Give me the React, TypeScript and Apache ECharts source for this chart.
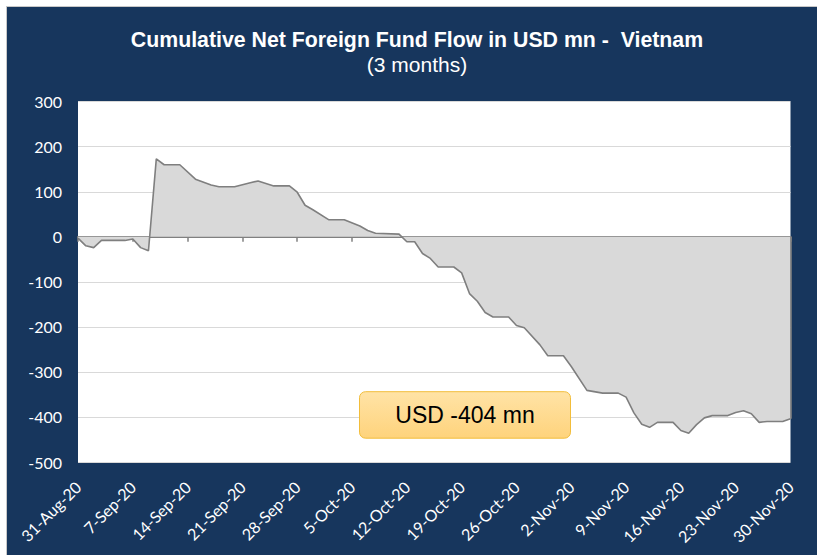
import React, { useEffect, useRef } from "react";
import * as echarts from "echarts";

const titleText = "Cumulative Net Foreign Fund Flow in USD mn -  Vietnam";
const subtitleText = "(3 months)";
const calloutText = "USD -404 mn";

const startDate = "2020-08-31";
const endDate = "2020-11-30";

const dates = [
  "2020-08-31", "2020-09-01", "2020-09-02", "2020-09-03", "2020-09-06", "2020-09-07",
  "2020-09-08", "2020-09-09", "2020-09-10", "2020-09-11", "2020-09-13", "2020-09-15",
  "2020-09-17", "2020-09-18", "2020-09-20", "2020-09-22", "2020-09-23", "2020-09-25",
  "2020-09-27", "2020-09-28", "2020-09-29", "2020-09-30", "2020-10-02", "2020-10-04",
  "2020-10-06", "2020-10-07", "2020-10-08", "2020-10-11", "2020-10-12", "2020-10-13",
  "2020-10-14", "2020-10-15", "2020-10-16", "2020-10-18", "2020-10-19", "2020-10-20",
  "2020-10-21", "2020-10-22", "2020-10-23", "2020-10-25", "2020-10-26", "2020-10-27",
  "2020-10-29", "2020-10-30", "2020-11-01", "2020-11-02", "2020-11-04", "2020-11-06",
  "2020-11-08", "2020-11-09", "2020-11-10", "2020-11-11", "2020-11-12", "2020-11-13",
  "2020-11-15", "2020-11-16", "2020-11-17", "2020-11-18", "2020-11-19", "2020-11-20",
  "2020-11-22", "2020-11-23", "2020-11-24", "2020-11-25", "2020-11-26", "2020-11-27",
  "2020-11-29", "2020-11-30",
];

const flows = [
  -3, -20, -24, -8, -8, -5,
  -24, -31, 173, 160, 160, 128,
  115, 111, 111, 120, 124, 113,
  113, 99, 70, 60, 38, 38,
  24, 14, 8, 6, -11, -11,
  -37, -48, -67, -67, -80, -126,
  -143, -168, -178, -178, -197, -202,
  -240, -264, -264, -288, -341, -347,
  -347, -356, -391, -416, -423, -412,
  -412, -430, -436, -417, -402, -397,
  -397, -390, -386, -393, -412, -410,
  -410, -404,
];

const yTicks = [-500, -400, -300, -200, -100, 0, 100, 200, 300];
const monthNames = ["Jan", "Feb", "Mar", "Apr", "May", "Jun", "Jul", "Aug", "Sep", "Oct", "Nov", "Dec"];

const DAY = 86400000;
const base = Date.parse(startDate);
const toDay = (d: string) => Math.round((Date.parse(d) - base) / DAY);
const lastDay = toDay(endDate);

const fmtDay = (v: number) => {
  const d = new Date(base + v * DAY);
  return `${d.getUTCDate()}-${monthNames[d.getUTCMonth()]}-${String(d.getUTCFullYear()).slice(2)}`;
};

const NAVY = "#17365D";
const LABEL_FONT = "Lato, 'Open Sans', sans-serif";

export default function App() {
  const ref = useRef<HTMLDivElement>(null);
  useEffect(() => {
    if (!ref.current) return;
    const chart = echarts.init(ref.current, undefined, { renderer: "svg" });
    const seriesData = dates.map((d, i) => [toDay(d), flows[i]]);
    const last = seriesData[seriesData.length - 1];
    chart.setOption({
      animation: false,
      backgroundColor: NAVY,
      grid: {
        left: 71,
        right: 26.5,
        top: 94.7,
        bottom: 93,
        show: true,
        backgroundColor: "#ffffff",
        borderWidth: 0,
      },
      xAxis: [
        {
          type: "value",
          min: 0,
          max: lastDay,
          interval: 7,
          position: "bottom",
          axisLine: { show: false, onZero: false },
          axisTick: { show: false },
          splitLine: { show: false },
          axisLabel: {
            rotate: 45,
            margin: 22,
            color: "#ffffff",
            fontSize: 16,
            fontFamily: LABEL_FONT,
            formatter: (v: number) => fmtDay(v),
            showMaxLabel: true,
            showMinLabel: true,
          },
        },
        {
          type: "value",
          min: 0,
          max: lastDay,
          interval: 7,
          position: "bottom",
          axisLine: { show: true, onZero: true, lineStyle: { color: "#808080", width: 2 } },
          axisTick: { show: true, inside: false, length: 5, lineStyle: { color: "#808080", width: 1.5 } },
          splitLine: { show: false },
          axisLabel: { show: false },
        },
      ],
      yAxis: {
        type: "value",
        min: yTicks[0],
        max: yTicks[yTicks.length - 1],
        interval: 100,
        axisLine: { show: false },
        axisTick: { show: false },
        splitLine: { show: true, lineStyle: { color: "#d9d9d9", width: 1.2 } },
        axisLabel: {
          color: "#ffffff",
          fontSize: 16,
          fontFamily: LABEL_FONT,
          margin: 16,
        },
      },
      series: [
        {
          type: "line",
          xAxisIndex: 0,
          data: seriesData,
          showSymbol: false,
          symbol: "none",
          lineStyle: { color: "#7f7f7f", width: 1.6 },
          areaStyle: { color: "#d9d9d9", opacity: 1, origin: "auto" },
          z: 1,
          markLine: {
            silent: true,
            symbol: ["none", "none"],
            label: { show: false },
            lineStyle: { color: "#7f7f7f", width: 1.6, type: "solid" },
            data: [[{ coord: [last[0], 0] }, { coord: [last[0], last[1]] }]],
          },
        },
      ],
      graphic: [
        {
          type: "text",
          x: 410,
          y: 33,
          style: {
            text: titleText,
            fill: "#ffffff",
            font: "bold 21.3px 'Liberation Sans', Arial, sans-serif",
            textAlign: "center",
            textVerticalAlign: "middle",
          },
        },
        {
          type: "text",
          x: 410,
          y: 57,
          style: {
            text: subtitleText,
            fill: "#ffffff",
            font: "21px 'Liberation Sans', Arial, sans-serif",
            textAlign: "center",
            textVerticalAlign: "middle",
          },
        },
        {
          type: "rect",
          shape: { x: 352.5, y: 384.7, width: 211, height: 46.5, r: 6 },
          style: {
            fill: new echarts.graphic.LinearGradient(0, 0, 0, 1, [
              { offset: 0, color: "#ffe3a6" },
              { offset: 1, color: "#fed37c" },
            ]),
            stroke: "#f2bd3a",
            lineWidth: 1,
          },
          z: 100,
        },
        {
          type: "text",
          x: 458,
          y: 408,
          style: {
            text: calloutText,
            fill: "#000000",
            font: "23px 'Liberation Sans', Arial, sans-serif",
            textAlign: "center",
            textVerticalAlign: "middle",
          },
          z: 101,
        },
      ],
    });
    return () => chart.dispose();
  }, []);

  return (
    <div style={{ position: "fixed", left: 0, top: 0, width: 817, height: 555, background: "#ffffff", overflow: "hidden" }}>
      <div style={{ position: "absolute", left: 6, top: 6, width: 811, height: 549, background: "#c8c8c8" }} />
      <div ref={ref} style={{ position: "absolute", left: 7, top: 7, width: 810, height: 548 }} />
    </div>
  );
}
